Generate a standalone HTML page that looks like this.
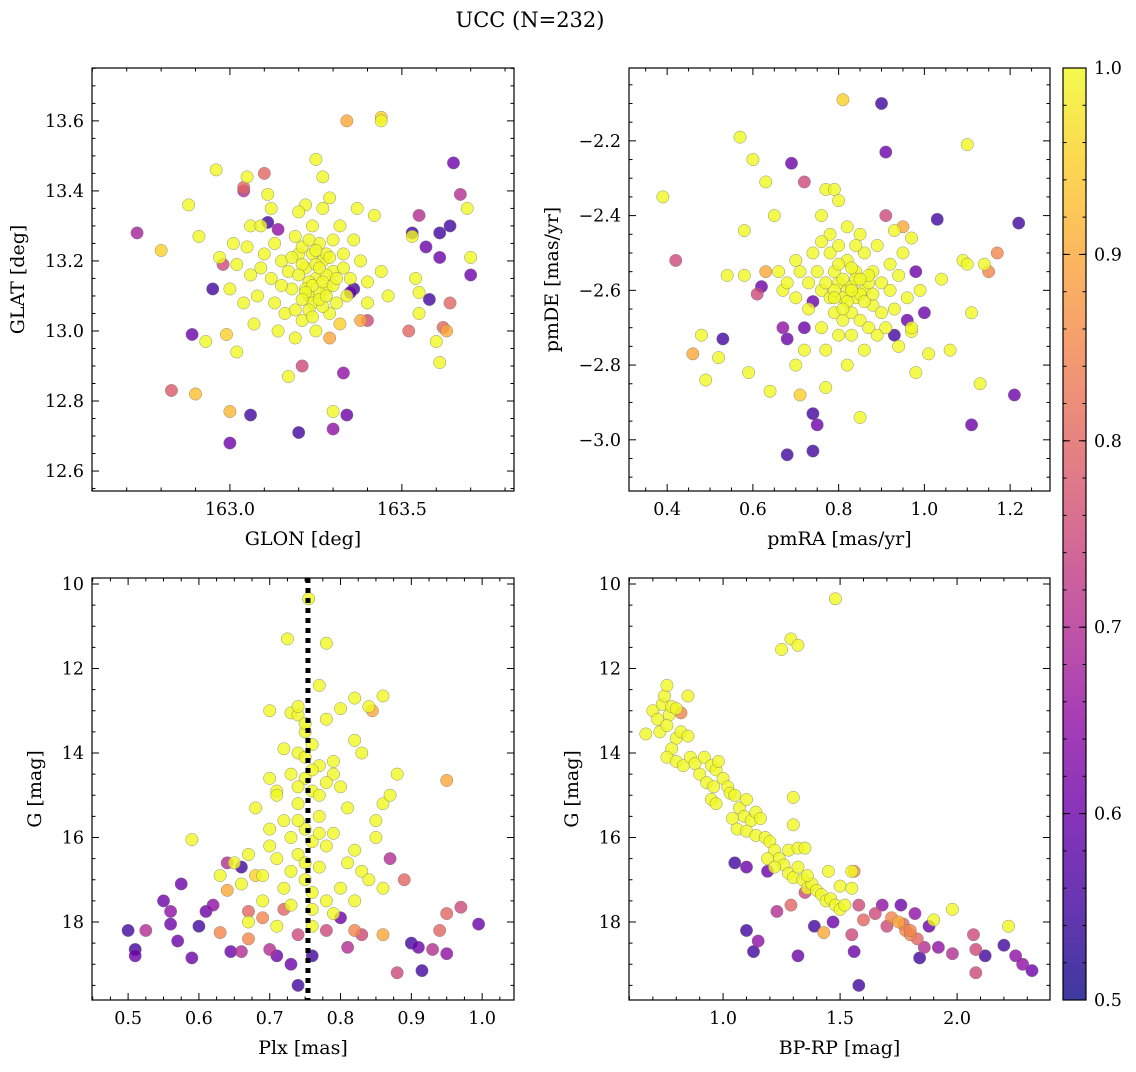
<!DOCTYPE html>
<html><head><meta charset="utf-8"><style>
body{margin:0;background:#fff;}
svg text{font-family:"DejaVu Serif","Liberation Serif",serif;fill:#000;}
</style></head><body>
<svg id="fig" width="1136" height="1067" xmlns="http://www.w3.org/2000/svg">
<defs><linearGradient id="cbg" x1="0" y1="1" x2="0" y2="0">
<stop offset="0" stop-color="#0d0887"/><stop offset="0.1" stop-color="#41049d"/><stop offset="0.2" stop-color="#6a00a8"/><stop offset="0.3" stop-color="#8f0da4"/><stop offset="0.4" stop-color="#b12a90"/><stop offset="0.5" stop-color="#cc4778"/><stop offset="0.6" stop-color="#e16462"/><stop offset="0.7" stop-color="#f2844b"/><stop offset="0.8" stop-color="#fca636"/><stop offset="0.9" stop-color="#fcce25"/><stop offset="1" stop-color="#f0f921"/></linearGradient></defs>
<text x="530" y="27" font-size="21" text-anchor="middle">UCC (N=232)</text>
</svg>
<script>
// Panel 1: GLON vs GLAT
const p1x=[162.73,162.80,162.83,162.88,162.89,162.90,162.91,162.93,162.95,162.96,162.97,162.98,162.99,163.0,163.0,163.01,163.02,163.04,163.04,163.06,163.05,163.06,163.10,163.12,163.11,163.14,163.20,163.21,163.17,163.25,163.27,163.34,163.44,163.44,163.33,163.30,163.30,163.34,163.37,163.42,163.53,163.53,163.55,163.54,163.55,163.52,163.57,163.58,163.61,163.61,163.62,163.63,163.64,163.64,163.65,163.67,163.69,163.70,163.70,163.60,163.61,163.55,163.38,163.35,163.36,163.29,163.40,
163.20,163.22,163.25,163.27,163.23,163.18,163.15,163.28,163.30,163.26,163.19,163.24,163.31,163.16,163.21,163.29,163.33,163.35,163.12,163.10,163.08,163.13,163.27,163.22,163.32,163.38,163.40,163.36,163.06,163.04,163.09,163.07,163.14,163.19,163.25,163.32,163.24,163.26,163.23,163.21,163.28,163.30,163.17,163.13,163.05,163.02,163.00,163.34,163.40,163.44,163.46,163.11,163.20,163.29,163.19,163.27,163.15,163.33,163.09,163.24,
163.22,163.25,163.28,163.21,163.26,163.24,163.29,163.23,163.20,163.27,163.25,163.22,163.30,163.18,163.26,163.24,163.21,163.28,163.23,163.31];
const p1y=[13.28,13.23,12.83,13.36,12.99,12.82,13.27,12.97,13.12,13.46,13.21,13.19,12.99,12.77,12.68,13.25,12.94,13.40,13.41,13.30,13.44,12.76,13.45,13.35,13.31,13.29,12.71,12.90,12.87,13.49,13.44,13.60,13.61,13.60,12.88,12.77,12.72,12.76,13.35,13.33,13.28,13.27,13.33,13.15,13.11,13.00,13.24,13.09,13.28,13.21,13.01,13.00,13.08,13.30,13.48,13.39,13.35,13.21,13.16,12.97,12.91,13.05,13.03,13.11,13.12,12.98,13.03,
13.22,13.18,13.15,13.20,13.10,13.12,13.20,13.12,13.17,13.25,13.27,13.30,13.08,13.05,13.03,13.05,13.22,13.15,13.15,13.22,13.10,13.08,13.35,13.36,13.30,13.20,13.14,13.26,13.16,13.08,13.30,13.02,13.00,12.98,13.00,13.02,13.08,13.11,13.14,13.19,13.22,13.26,13.17,13.25,13.24,13.19,13.12,13.10,13.08,13.17,13.10,13.39,13.34,13.38,13.06,13.07,13.13,13.18,13.18,13.22,
13.12,13.19,13.16,13.24,13.09,13.13,13.21,13.06,13.16,13.14,13.23,13.11,13.13,13.21,13.18,13.04,13.09,13.10,13.26,13.15];
const p1p=[0.68,0.95,0.78,1,0.6,0.93,1,1,0.55,1,1,0.75,0.95,0.92,0.6,1,1,0.7,0.8,1,1,0.55,0.8,1,0.55,0.65,0.55,0.75,1,1,1,0.9,0.95,1,0.65,1,0.65,0.6,1,1,0.55,1,0.7,1,1,0.8,0.6,0.55,0.55,0.6,0.8,0.9,0.8,0.55,0.6,0.7,1,1,0.6,1,1,1,0.9,0.6,0.55,0.9,0.75,
1,1,1,1,1,1,1,1,1,1,1,1,1,1,1,1,1,1,1,1,1,1,1,1,1,1,1,1,1,1,1,1,1,1,1,0.95,1,1,1,1,1,1,1,1,1,1,1,1,1,1,1,1,1,1,1,1,1,1,1,1,
1,1,1,1,1,1,1,1,1,1,1,1,1,1,1,1,1,1,1,1];
// Panel 2: pmRA vs pmDE
const p2x=[0.39,0.42,0.46,0.48,0.49,0.52,0.53,0.54,0.57,0.58,0.58,0.59,0.60,0.61,0.62,0.63,0.63,0.64,0.65,0.67,0.67,0.68,0.68,0.69,0.70,0.70,0.71,0.72,0.74,0.74,0.75,0.76,0.77,0.77,0.79,0.81,0.82,0.85,0.90,0.91,0.91,0.93,0.95,0.98,0.98,1.00,1.01,1.03,1.04,1.06,1.09,1.10,1.10,1.11,1.11,1.13,1.14,1.15,1.17,1.21,1.22,0.93,0.96,0.97,0.74,0.72,
0.75,0.78,0.80,0.82,0.84,0.86,0.88,0.90,0.92,0.76,0.78,0.80,0.82,0.84,0.86,0.88,0.90,0.79,0.81,0.83,0.85,0.87,0.73,0.71,0.73,0.76,0.94,0.96,0.95,0.97,0.85,0.82,0.78,0.80,0.76,0.70,0.68,0.66,0.92,0.89,0.91,0.93,0.83,0.77,0.79,0.81,0.87,0.84,0.74,0.89,0.99,0.97,0.86,0.72,0.80,0.94,
0.81,0.83,0.85,0.79,0.87,0.82,0.84,0.80,0.86,0.83,0.77,0.88,0.81,0.85,0.79,0.83];
const p2y=[-2.35,-2.52,-2.77,-2.72,-2.84,-2.78,-2.73,-2.56,-2.19,-2.56,-2.44,-2.82,-2.25,-2.61,-2.59,-2.31,-2.55,-2.87,-2.40,-2.70,-2.60,-3.04,-2.73,-2.26,-2.80,-2.52,-2.88,-2.31,-2.93,-3.03,-2.96,-2.40,-2.33,-2.86,-2.33,-2.09,-2.80,-2.94,-2.10,-2.23,-2.40,-2.44,-2.43,-2.55,-2.82,-2.66,-2.77,-2.41,-2.57,-2.76,-2.52,-2.21,-2.53,-2.66,-2.96,-2.85,-2.53,-2.55,-2.50,-2.88,-2.42,-2.72,-2.68,-2.71,-2.63,-2.70,
-2.55,-2.50,-2.48,-2.52,-2.55,-2.50,-2.55,-2.58,-2.60,-2.60,-2.62,-2.58,-2.60,-2.62,-2.60,-2.64,-2.66,-2.66,-2.68,-2.66,-2.68,-2.70,-2.58,-2.55,-2.65,-2.70,-2.56,-2.62,-2.50,-2.46,-2.45,-2.43,-2.45,-2.36,-2.47,-2.62,-2.58,-2.55,-2.53,-2.72,-2.70,-2.65,-2.72,-2.76,-2.55,-2.62,-2.58,-2.48,-2.50,-2.48,-2.60,-2.70,-2.76,-2.76,-2.72,-2.75,
-2.57,-2.59,-2.61,-2.60,-2.56,-2.63,-2.57,-2.53,-2.63,-2.54,-2.58,-2.61,-2.65,-2.57,-2.62,-2.60];
const p2p=[1,0.75,0.9,1,1,1,0.55,1,1,1,1,1,1,0.75,0.6,1,0.9,1,1,0.65,1,0.55,0.6,0.6,1,1,0.95,0.75,0.55,0.55,0.6,1,1,1,1,0.95,1,1,0.55,0.6,0.75,1,0.9,0.6,1,0.6,1,0.55,1,1,1,1,1,1,0.6,1,1,0.85,0.85,0.6,0.55,0.55,0.6,1,0.6,0.6,
1,1,1,1,1,1,1,1,1,1,1,1,1,1,1,1,1,1,1,1,1,1,1,1,1,1,1,1,1,1,1,1,1,1,1,1,1,1,1,1,1,1,1,1,1,1,1,1,1,1,1,1,1,1,1,1,
1,1,1,1,1,1,1,1,1,1,1,1,1,1,1,1];
// Panel 3: Plx vs G
const p3x=[0.50,0.51,0.51,0.525,0.55,0.56,0.56,0.57,0.575,0.59,0.60,0.59,0.61,0.62,0.63,0.64,0.64,0.645,0.66,0.66,0.67,0.67,0.68,0.69,0.70,0.71,0.72,0.73,0.74,0.74,0.76,0.78,0.80,0.81,0.82,0.83,0.86,0.87,0.88,0.89,0.90,0.91,0.915,0.93,0.94,0.95,0.95,0.97,0.995,0.95,0.845,0.86,0.82,0.84,0.78,0.725,0.755,0.77,0.70,0.73,0.71,0.65,0.63,
0.75,0.76,0.74,0.77,0.75,0.76,0.74,0.77,0.75,0.76,0.74,0.77,0.75,0.76,0.73,0.78,0.72,0.79,0.73,0.80,0.71,0.81,0.72,0.79,0.70,0.82,0.71,0.83,0.69,0.80,0.78,0.72,0.85,0.83,0.82,0.86,0.68,0.70,0.67,0.66,0.84,0.85,0.87,0.88,0.80,0.74,0.70,0.69,0.76,0.79,0.82,0.86,0.71,0.67,0.81,0.78,0.73,0.77,0.79,0.74,
0.75,0.76,0.74,0.75,0.77,0.76,0.74,0.75,0.78,0.73];
const p3y=[18.2,18.65,18.8,18.2,17.5,17.75,18.05,18.45,17.1,18.85,18.1,16.05,17.75,17.6,18.25,16.6,17.25,18.7,18.7,16.7,18.4,17.75,16.9,17.9,18.65,18.8,17.7,19.0,18.3,19.5,18.8,18.2,17.9,18.6,18.2,18.3,18.3,16.5,19.2,17.0,18.5,18.6,19.15,18.65,18.2,18.75,17.8,17.65,18.05,14.65,13.0,12.65,12.7,12.9,11.4,11.3,10.35,12.4,13.0,13.05,14.9,16.6,16.9,
13.5,13.8,14.0,14.3,14.6,14.9,15.2,15.5,15.8,16.1,16.4,16.7,17.0,17.3,17.6,13.2,13.9,14.2,14.5,14.8,15.0,15.3,15.6,15.9,16.2,16.3,16.5,16.8,16.9,17.2,17.5,17.2,15.6,14.0,13.7,15.2,15.3,15.8,16.4,17.1,17.0,16.0,15.0,14.5,12.95,13.1,14.6,17.5,18.1,17.8,17.5,17.2,18.1,18.0,16.6,16.2,16.0,15.0,14.5,12.9,
14.1,14.4,15.6,16.6,15.9,17.7,14.8,13.3,14.7,16.8];
const p3p=[0.55,0.55,0.6,0.7,0.6,0.65,0.6,0.6,0.6,0.6,0.55,1,0.6,0.65,0.85,0.7,0.9,0.6,0.7,0.55,0.85,0.8,0.95,0.85,0.7,0.6,0.8,0.6,0.75,0.55,0.55,0.75,0.6,0.7,0.85,0.75,0.9,0.7,0.75,0.8,0.55,0.6,0.55,0.7,0.8,0.65,0.8,0.75,0.6,0.9,0.9,1,1,1,1,1,1,1,1,1,1,1,1,
1,1,1,1,1,1,1,1,1,1,1,1,1,1,1,1,1,1,1,1,1,1,1,1,1,1,1,1,1,1,1,1,1,1,1,1,1,1,1,1,1,1,1,1,1,1,1,1,1,1,1,1,1,1,1,1,1,1,1,1,
1,1,1,1,1,1,1,1,1,1];
// Panel 4: BP-RP vs G
const p4x=[0.67,0.70,0.72,0.74,0.75,0.76,0.77,0.73,0.76,0.78,0.80,0.80,0.78,0.76,0.82,0.85,0.85,0.80,0.83,0.86,0.88,0.90,0.92,0.95,0.97,0.98,0.93,0.96,1.00,1.02,1.03,0.95,0.97,1.05,1.07,1.10,1.09,1.12,1.14,1.16,1.04,1.06,1.10,1.14,1.18,1.20,1.22,1.24,1.26,1.28,1.30,1.28,1.32,1.35,1.19,1.22,1.34,1.36,1.38,1.40,1.42,1.44,1.46,1.48,1.50,1.32,1.36,1.45,1.50,1.55,1.55,1.52,1.30,1.30,1.25,1.29,1.32,1.48,1.90,1.98,2.22,
0.82,1.05,1.10,1.19,1.23,1.29,1.35,1.39,1.43,1.47,1.55,1.56,1.58,1.60,1.65,1.68,1.70,1.72,1.75,1.76,1.78,1.80,1.82,1.83,1.84,1.86,1.88,1.92,1.98,2.07,2.08,2.08,2.12,2.20,2.25,2.28,2.32,1.10,1.13,1.15,1.32,1.56,1.58,1.80,1.77];
const p4y=[13.55,13.0,13.2,12.85,12.65,12.4,13.1,13.5,13.35,12.9,12.95,13.65,13.9,14.1,13.5,12.65,13.6,14.2,14.3,14.1,14.25,14.5,14.1,14.3,14.4,14.2,14.7,14.8,14.6,14.8,14.95,15.1,15.2,15.0,15.3,15.1,15.5,15.6,15.4,15.55,15.55,15.8,15.85,15.95,16.0,16.1,16.3,16.5,16.65,16.85,16.95,16.3,16.25,16.25,16.5,16.7,17.0,17.2,17.1,17.25,17.35,17.5,17.45,17.6,17.7,16.7,16.9,16.8,17.15,16.8,17.2,17.6,15.05,15.7,11.55,11.3,11.45,10.35,17.95,17.7,18.1,
13.05,16.6,16.7,16.8,17.75,17.6,17.3,18.1,18.25,18.0,18.3,16.8,17.6,17.95,17.8,17.6,18.1,17.9,18.0,17.6,18.2,18.3,17.8,18.4,18.85,18.6,18.1,18.6,18.75,18.3,18.65,19.2,18.8,18.55,18.8,19.0,19.15,18.2,18.7,18.45,18.8,18.7,19.5,18.2,18.05];
const p4p=[1,1,1,1,1,1,1,1,1,1,1,1,1,1,1,1,1,1,1,1,1,1,1,1,1,1,1,1,1,1,1,1,1,1,1,1,1,1,1,1,1,1,1,1,1,1,1,1,1,1,1,1,1,1,1,1,1,1,1,1,1,1,1,1,1,1,1,1,1,1,1,1,1,1,1,1,1,1,1,1,1,
0.85,0.55,0.6,0.6,0.7,0.8,0.75,0.55,0.9,0.6,0.75,0.85,0.75,0.8,0.75,0.65,0.75,0.85,0.9,0.6,0.85,0.85,0.65,0.8,0.55,0.7,0.6,0.65,0.7,0.75,0.75,0.75,0.55,0.55,0.65,0.65,0.6,0.55,0.55,0.65,0.6,0.6,0.55,0.85,0.8];
const cbTicks=[0.5,0.6,0.7,0.8,0.9,1.0];

const NS='http://www.w3.org/2000/svg';
const svg=document.getElementById('fig');
const stops=['#0d0887','#41049d','#6a00a8','#8f0da4','#b12a90','#cc4778','#e16462','#f2844b','#fca636','#fcce25','#f0f921'];
function hx(h){return[parseInt(h.slice(1,3),16),parseInt(h.slice(3,5),16),parseInt(h.slice(5,7),16)];}
function cmap(p){let t=Math.max(0,Math.min(1,(p-0.5)/0.5))*10;let i=Math.min(9,Math.floor(t)),f=t-i;const a=hx(stops[i]),b=hx(stops[i+1]);return 'rgb('+a.map((v,k)=>Math.round(v+(b[k]-v)*f)).join(',')+')';}
function el(tag,attrs,parent){const e=document.createElementNS(NS,tag);for(const k in attrs)e.setAttribute(k,attrs[k]);(parent||svg).appendChild(e);return e;}
function fmt(v,d){return (Math.abs(v)<1e-9?0:v).toFixed(d).replace('-','\u2212');}

function panel(o){
  const g=el('g',{});
  
  
  const sx=v=>o.L+(v-o.x0)/(o.x1-o.x0)*(o.R-o.L);
  const sy=v=>o.B-(v-o.y0)/(o.y1-o.y0)*(o.B-o.T);
  const pts=el('g',{},g);
  
  
  const idx=o.xs.map((_,i)=>i).sort((a,b)=>o.ps[a]-o.ps[b]);
  idx.forEach(i=>{
    const c=el('circle',{cx:sx(o.xs[i]),cy:sy(o.ys[i]),r:6.2,fill:cmap(o.ps[i]),'fill-opacity':0.8,stroke:'#777','stroke-width':0.5,'stroke-opacity':0.8},pts);
    
    
  });
  if(o.vline!==undefined){
    const v=el('line',{x1:sx(o.vline),x2:sx(o.vline),y1:o.T,y2:o.B,stroke:'#000','stroke-width':5,'stroke-dasharray':'5,5'},g);
    
    
  }
  const fr=el('rect',{x:o.L,y:o.T,width:o.R-o.L,height:o.B-o.T,fill:'none',stroke:'#000','stroke-width':1.2},g);
  
  
  const eps=1e-9;
  const xlo=Math.min(o.x0,o.x1),xhi=Math.max(o.x0,o.x1);
  for(let k=Math.ceil(xlo/o.xmin-1e-6);k*o.xmin<=xhi+eps;k++){
    const v=k*o.xmin;
    const X=sx(v);const maj=Math.abs(v/o.xmaj-Math.round(v/o.xmaj))<1e-6;const len=maj?7:3.5;
    el('line',{x1:X,x2:X,y1:o.B,y2:o.B-len,stroke:'#000','stroke-width':1},g);
    el('line',{x1:X,x2:X,y1:o.T,y2:o.T+len,stroke:'#000','stroke-width':1},g);
    if(maj){const t=el('text',{x:X,y:o.B+24,'font-size':17.5,'text-anchor':'middle'},g);t.textContent=fmt(v,o.xd);
      
      }
  }
  const ylo=Math.min(o.y0,o.y1),yhi=Math.max(o.y0,o.y1);
  for(let k=Math.ceil(ylo/o.ymin-1e-6);k*o.ymin<=yhi+eps;k++){
    const v=k*o.ymin;
    const Y=sy(v);const maj=Math.abs(v/o.ymaj-Math.round(v/o.ymaj))<1e-6;const len=maj?7:3.5;
    el('line',{x1:o.L,x2:o.L+len,y1:Y,y2:Y,stroke:'#000','stroke-width':1},g);
    el('line',{x1:o.R,x2:o.R-len,y1:Y,y2:Y,stroke:'#000','stroke-width':1},g);
    if(maj){const t=el('text',{x:o.L-8,y:Y+6,'font-size':17.5,'text-anchor':'end'},g);t.textContent=fmt(v,o.yd);
      
      }
  }
  const xl=el('text',{x:(o.L+o.R)/2,y:o.B+54,'font-size':19,'text-anchor':'middle'},g);xl.textContent=o.xlab;
  
  
  const yl=el('text',{x:o.ylx,y:(o.T+o.B)/2,'font-size':19,'text-anchor':'middle',transform:'rotate(-90 '+o.ylx+' '+((o.T+o.B)/2)+')'},g);yl.textContent=o.ylab;
  
  
}
panel({name:'glon-glat-panel',L:92,R:514,T:68,B:491,x0:162.599,x1:163.826,y0:12.543,y1:13.751,xmaj:0.5,xmin:0.1,ymaj:0.2,ymin:0.05,xd:1,yd:1,xs:p1x,ys:p1y,ps:p1p,xlab:'GLON [deg]',ylab:'GLAT [deg]',ylx:24});
panel({name:'pm-panel',L:629,R:1050,T:68,B:491,x0:0.311,x1:1.293,y0:-3.137,y1:-2.005,xmaj:0.2,xmin:0.05,ymaj:0.2,ymin:0.05,xd:1,yd:1,xs:p2x,ys:p2y,ps:p2p,xlab:'pmRA [mas/yr]',ylab:'pmDE [mas/yr]',ylx:558});
panel({name:'plx-g-panel',L:92,R:514,T:578,B:1000,x0:0.449,x1:1.045,y0:19.846,y1:9.858,xmaj:0.1,xmin:0.025,ymaj:2,ymin:0.5,xd:1,yd:0,xs:p3x,ys:p3y,ps:p3p,xlab:'Plx [mas]',ylab:'G [mag]',ylx:41,vline:0.754});
panel({name:'cmd-panel',L:629,R:1050,T:578,B:1000,x0:0.598,x1:2.397,y0:19.846,y1:9.858,xmaj:0.5,xmin:0.1,ymaj:2,ymin:0.5,xd:1,yd:0,xs:p4x,ys:p4y,ps:p4p,xlab:'BP-RP [mag]',ylab:'G [mag]',ylx:578});
const cb=el('g',{});


const CT=68,CB=1000,CL=1063,CR=1086;
el('rect',{x:CL,y:CT,width:CR-CL,height:CB-CT,fill:'url(#cbg)','fill-opacity':0.8},cb);
el('rect',{x:CL,y:CT,width:CR-CL,height:CB-CT,fill:'none',stroke:'#000','stroke-width':1.2},cb);
const cy=v=>CB-(v-0.5)/0.5*(CB-CT);
for(let k=25;k<=50;k++){const Y=cy(k*0.02);el('line',{x1:CR,x2:CR-3.5,y1:Y,y2:Y,stroke:'#000'},cb);el('line',{x1:CL,x2:CL+3.5,y1:Y,y2:Y,stroke:'#000'},cb);}
cbTicks.forEach(v=>{const Y=cy(v);el('line',{x1:CR,x2:CR-7,y1:Y,y2:Y,stroke:'#000'},cb);el('line',{x1:CL,x2:CL+7,y1:Y,y2:Y,stroke:'#000'},cb);
  const t=el('text',{x:CR+8,y:Y+6,'font-size':17.5},cb);t.textContent=v.toFixed(1);
  
  });
</script>
</body></html>
